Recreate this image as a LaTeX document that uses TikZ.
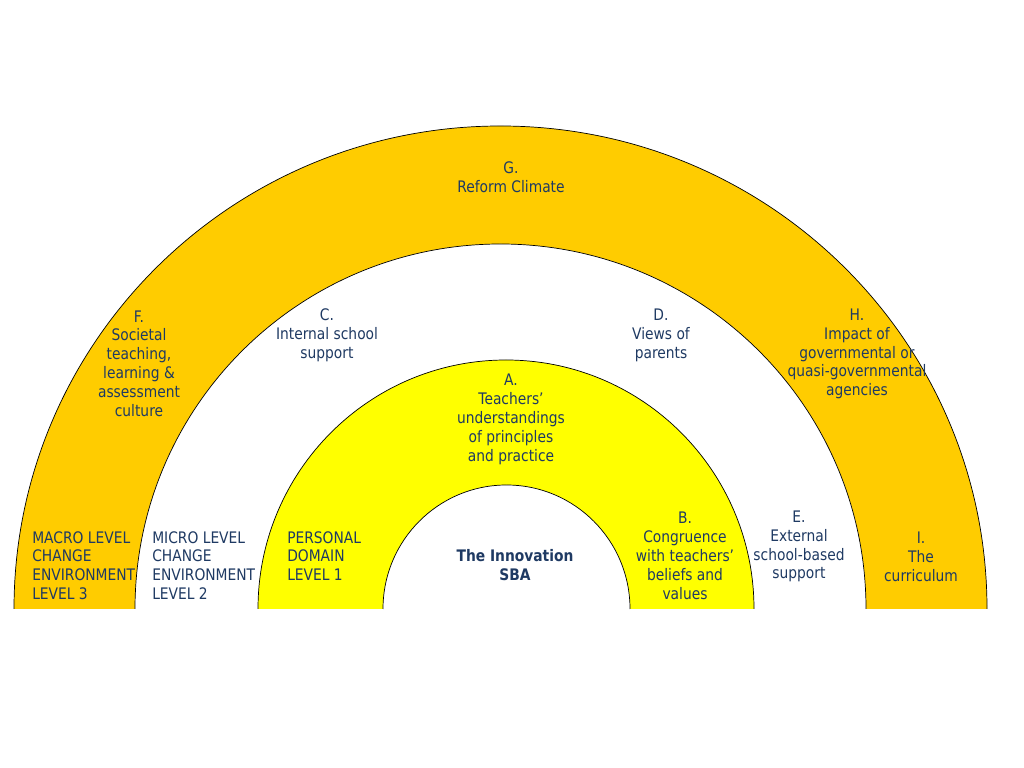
\documentclass[tikz,border=0pt]{standalone}
\usepackage{fontspec}
\setmainfont[FakeStretch=0.87]{DejaVu Sans}
\usetikzlibrary{positioning}
\definecolor{ink}{HTML}{1F3A63}
\definecolor{gold}{HTML}{FFCC00}
\definecolor{lemon}{HTML}{FFFF00}

\begin{document}
\begin{tikzpicture}[x=0.025cm, y=0.025cm]
\tikzset{
    rim/.style={draw=black, line width=0.5pt},
    label/.style={text=ink, align=center, inner sep=0pt, font=\fontsize{11.3}{13.4}\selectfont},
    side/.style={label, align=left, anchor=west}
}
\useasboundingbox (0,0) rectangle (1024,768);

% --- Half rings, largest first ---
\foreach \cx/\rx/\ry/\col in {500.5/486.5/483/gold, 500.5/365.5/365/white, 506/248/249/lemon, 506.5/123.5/124/white} {
    \fill[\col] (\cx-\rx,159) arc[start angle=180, end angle=0, x radius=\rx, y radius=\ry] -- cycle;
    \draw[rim] (\cx-\rx,159) arc[start angle=180, end angle=0, x radius=\rx, y radius=\ry];
}

% --- Macro level (outer ring) ---
\node (G) at (511, 590.5) [label] {G.\\Reform Climate};
\node (F) at (139, 404.5) [label] {F.\\Societal\\teaching,\\learning \&\\assessment\\culture};
\node (H) at (857, 414) [label] {H.\\Impact of\\governmental or\\quasi-governmental\\agencies};
\node (I) at (921, 211.5) [label] {I.\\The\\curriculum};
\node (macro) at (32, 202.5) [side] {MACRO LEVEL\\CHANGE\\ENVIRONMENT\\LEVEL 3};

% --- Micro level (white ring) ---
\node (C) at (327, 432.5) [label] {C.\\Internal school\\support};
\node (D) at (661, 432.5) [label] {D.\\Views of\\parents};
\node (E) at (799, 221.5) [label] {E.\\External\\school-based\\support};
\node (micro) at (152, 202.5) [side] {MICRO LEVEL\\CHANGE\\ENVIRONMENT\\LEVEL 2};

% --- Personal domain (yellow ring) ---
\node (A) at (511, 348.5) [label] {A.\\Teachers’\\understandings\\of principles\\and practice};
\node (B) at (685, 212) [label] {B.\\Congruence\\with teachers’\\beliefs and\\values};
\node (personal) at (287, 212) [side] {PERSONAL\\DOMAIN\\LEVEL 1};

% --- Centre ---
\node (sba) at (515, 202.5) [label, font=\fontsize{11.3}{13.4}\selectfont\bfseries] {The Innovation\\SBA};

\end{tikzpicture}
\end{document}
